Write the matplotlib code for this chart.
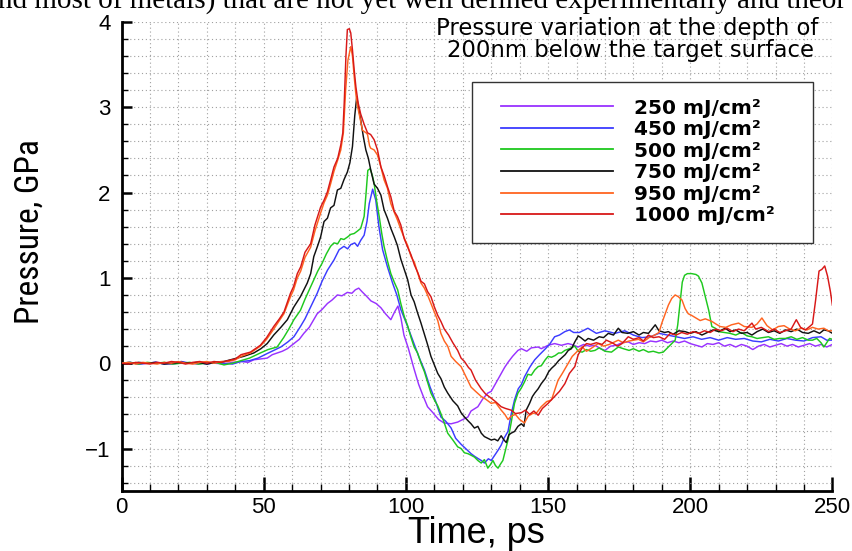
import matplotlib
matplotlib.use('Agg')
import matplotlib.pyplot as plt
from matplotlib import font_manager
from matplotlib.patches import Rectangle
from matplotlib.ticker import MultipleLocator
from matplotlib.font_manager import FontProperties

# ---------------- data (time in ps, pressure in GPa) ----------------
p250 = [(0, 0.0), (3, 0.01), (6, -0.01), (9, 0.0), (12, 0.01), (15, 0.0), (18, -0.01), (21, 0.01),
        (24, 0.0), (27, -0.01), (30, 0.01), (33, 0.0), (36, -0.01), (39, 0.01), (42, 0.02), (44.5, 0.01),
        (46.5, 0.04), (49, 0.05), (51.2, 0.06), (53, 0.10), (54.7, 0.12), (56.5, 0.14), (58.3, 0.17),
        (60.6, 0.23), (62.5, 0.28), (64.1, 0.35), (66, 0.42), (67.6, 0.51), (68.8, 0.58), (70.5, 0.63),
        (72.4, 0.70), (74, 0.74), (75.9, 0.80), (77.5, 0.79), (79.4, 0.83), (81, 0.82), (82.2, 0.86),
        (83.4, 0.88), (84.5, 0.84), (86, 0.79), (87.7, 0.73), (89.5, 0.70), (91.2, 0.65), (92.8, 0.58),
        (94.7, 0.51), (96, 0.60), (97.2, 0.67), (98.3, 0.52), (99.3, 0.33), (100.8, 0.18), (102.8, -0.06),
        (104.5, -0.25), (106, -0.38), (107.6, -0.51), (109.5, -0.58), (111.5, -0.66), (113.4, -0.70),
        (115.9, -0.71), (118.2, -0.69), (120, -0.66), (121.8, -0.63), (122.9, -0.56), (125.3, -0.51),
        (127, -0.42), (128.8, -0.35), (130, -0.33), (131.5, -0.24), (133, -0.15), (134.7, -0.05),
        (135.9, 0.01), (137.5, 0.08), (139.4, 0.15), (140.6, 0.17), (142.5, 0.14), (144.1, 0.18),
        (146.5, 0.19), (147.6, 0.17), (150, 0.21), (152.3, 0.23), (154.7, 0.21), (157, 0.23), (158.2, 0.22),
        (160.6, 0.19), (162.5, 0.22), (164.5, 0.20), (166.5, 0.21), (168.5, 0.17), (170, 0.15), (172, 0.20),
        (174, 0.21), (176, 0.24), (178.2, 0.25), (180, 0.22), (182, 0.24), (184, 0.23), (186, 0.26),
        (188, 0.25), (190, 0.27), (192, 0.24), (194, 0.26), (196, 0.24), (198, 0.26), (200, 0.23),
        (202, 0.21), (204.1, 0.19), (206, 0.23), (208, 0.22), (210, 0.24), (212, 0.20), (214, 0.22),
        (216, 0.19), (218, 0.22), (220, 0.20), (222, 0.16), (224, 0.20), (226, 0.22), (228, 0.19),
        (230, 0.21), (232, 0.23), (234, 0.20), (236, 0.22), (238, 0.19), (240, 0.21), (242, 0.23),
        (244, 0.20), (246, 0.22), (248, 0.19), (250, 0.22)]

p450 = [(0, 0.0), (3, 0.01), (6, -0.01), (9, 0.0), (12, 0.01), (15, -0.01), (18, 0.0), (21, 0.02),
        (24, 0.0), (27, 0.01), (30, -0.01), (33, 0.01), (36, 0.0), (39, -0.01), (42, 0.02), (45, 0.03),
        (48, 0.06), (51, 0.11), (53.5, 0.15), (56, 0.19), (58.5, 0.25), (60.6, 0.31), (62.9, 0.43),
        (64.5, 0.52), (66.5, 0.66), (68.8, 0.82), (70.5, 0.96), (72.4, 1.09), (74.7, 1.21), (76.5, 1.33),
        (78.2, 1.37), (79.5, 1.34), (80.6, 1.39), (82, 1.41), (83, 1.37), (84.1, 1.44), (85.3, 1.50),
        (86.3, 1.66), (87.1, 1.87), (88.3, 2.04), (89.4, 1.91), (90.5, 1.60), (91.8, 1.33), (93.5, 1.13),
        (95.3, 0.94), (96.8, 0.80), (98.2, 0.63), (100.6, 0.43), (102.5, 0.26), (104.5, 0.08),
        (106.5, -0.08), (108.5, -0.28), (110.5, -0.45), (112.3, -0.63), (114, -0.68), (115.9, -0.76),
        (117.5, -0.88), (119.4, -0.95), (121, -1.00), (122.9, -1.06), (124.1, -1.09), (125.5, -1.12),
        (126.5, -1.14), (127.6, -1.17), (129, -1.12), (130, -1.14), (131.2, -1.08), (132.4, -1.02),
        (133.5, -0.96), (134.5, -0.88), (135.9, -0.80), (137, -0.60), (138.2, -0.43), (139.5, -0.30),
        (140.6, -0.25), (141.7, -0.16), (143.5, -0.05), (145.3, 0.04), (147, 0.10), (148.8, 0.16),
        (150.5, 0.22), (152.3, 0.31), (154, 0.33), (155.9, 0.37), (157.5, 0.39), (159, 0.36), (161, 0.36),
        (164, 0.41), (167, 0.35), (170, 0.38), (173.5, 0.35), (177, 0.38), (180, 0.33), (183, 0.30),
        (186, 0.31), (189, 0.35), (192, 0.33), (195, 0.31), (198, 0.29), (201, 0.31), (204, 0.28),
        (207, 0.30), (210, 0.27), (213, 0.30), (216, 0.28), (219, 0.29), (222, 0.26), (225, 0.25),
        (228, 0.28), (231, 0.26), (234, 0.29), (237, 0.27), (240, 0.26), (243, 0.30), (246, 0.31),
        (248, 0.27), (250, 0.27)]

p500 = [(0, 0.0), (3, 0.01), (6, -0.01), (9, 0.01), (12, 0.0), (15, 0.01), (18, -0.01), (21, 0.0),
        (24, 0.01), (27, -0.01), (30, 0.0), (33, 0.01), (36, -0.02), (39, 0.0), (42, 0.03), (45, 0.06),
        (48.8, 0.12), (51.5, 0.16), (54.7, 0.19), (57, 0.30), (58.8, 0.40), (60.6, 0.51), (62.9, 0.62),
        (64.5, 0.75), (66, 0.86), (67.6, 0.98), (69, 1.08), (70.5, 1.17), (72, 1.28), (73.5, 1.37),
        (74.7, 1.41), (76, 1.40), (77.1, 1.46), (78.2, 1.45), (79.5, 1.48), (80.6, 1.51), (81.8, 1.52),
        (83, 1.55), (84.1, 1.58), (85.3, 1.72), (86, 2.00), (86.6, 2.26), (87.4, 2.28), (88.2, 2.20),
        (88.8, 2.11), (89.7, 1.90), (90.6, 1.72), (91.5, 1.52), (92.3, 1.37), (93.5, 1.20), (94.7, 1.05),
        (95.9, 0.95), (97.1, 0.86), (98.2, 0.70), (99.4, 0.55), (100.6, 0.44), (101.8, 0.30),
        (102.9, 0.19), (104.1, 0.12), (105.3, 0.0), (106.5, -0.10), (107.6, -0.22), (108.8, -0.35),
        (110, -0.43), (111.2, -0.50), (112.3, -0.59), (113.5, -0.70), (114.7, -0.82), (116.5, -0.90),
        (118.2, -0.98), (119.4, -1.00), (120.6, -1.05), (121.8, -1.06), (123, -1.08), (124.1, -1.10),
        (125.3, -1.14), (126.5, -1.17), (127.6, -1.13), (128.8, -1.23), (129.7, -1.19), (130.6, -1.14),
        (131.5, -1.20), (132.4, -1.23), (133.3, -1.18), (134.1, -1.14), (135, -1.02), (135.9, -0.90),
        (137, -0.70), (138.2, -0.47), (139.4, -0.35), (140.6, -0.29), (141.7, -0.22), (142.9, -0.13),
        (144.1, -0.14), (145.3, -0.08), (146.5, -0.04), (147.6, -0.03), (149, 0.04), (150, 0.08),
        (151.2, 0.07), (152.5, 0.09), (153.7, 0.12), (154.7, 0.12), (155.9, 0.15), (157.5, 0.17),
        (159.4, 0.20), (160.6, 0.14), (162, 0.13), (163.5, 0.16), (165, 0.14), (166.5, 0.15), (168, 0.18),
        (170, 0.14), (172.3, 0.13), (174.7, 0.19), (176.5, 0.17), (178.5, 0.15), (180, 0.17), (182, 0.14),
        (183.5, 0.16), (185.3, 0.13), (187, 0.14), (189, 0.12), (190.5, 0.13), (192.3, 0.19), (194.7, 0.27),
        (195.6, 0.45), (196.4, 0.70), (197.2, 0.95), (198, 1.03), (199, 1.05), (200.5, 1.05), (202, 1.04),
        (202.9, 1.02), (204.1, 0.94), (205.3, 0.78), (206.5, 0.62), (207.6, 0.43), (208.8, 0.41),
        (210, 0.37), (212, 0.36), (214, 0.35), (216, 0.33), (218, 0.36), (220, 0.32), (221.7, 0.31),
        (223.5, 0.29), (225.5, 0.30), (227.5, 0.31), (229.5, 0.28), (231.5, 0.29), (233.5, 0.29),
        (235.5, 0.31), (237.5, 0.28), (239.5, 0.30), (241.5, 0.27), (243, 0.27), (244.5, 0.29),
        (246, 0.24), (247, 0.19), (248, 0.24), (249, 0.29), (250, 0.28)]

p750 = [(0, 0.0), (3, -0.01), (6, 0.01), (9, 0.0), (12, 0.01), (15, -0.01), (18, 0.0), (21, 0.01),
        (24, 0.0), (27, 0.01), (30, -0.01), (33, 0.01), (36, 0.02), (39.4, 0.05), (42.9, 0.08),
        (46.5, 0.12), (49, 0.17), (51.2, 0.23), (53.5, 0.33), (56, 0.42), (58.3, 0.51), (60.6, 0.66),
        (62.9, 0.78), (65.3, 0.94), (66.5, 1.05), (67.6, 1.25), (69, 1.38), (70, 1.48), (71.2, 1.66),
        (72.4, 1.70), (73.5, 1.82), (74.7, 1.85), (75.9, 2.03), (77.1, 2.05), (78.2, 2.15), (79.4, 2.24),
        (80.3, 2.35), (81.2, 2.54), (82, 2.90), (82.7, 3.12), (83.4, 2.98), (84.1, 2.85), (85, 2.66),
        (85.9, 2.50), (86.8, 2.40), (87.6, 2.27), (88.8, 2.10), (90, 2.05), (91.2, 1.97), (92.3, 1.80),
        (93.5, 1.70), (94.7, 1.58), (95.9, 1.48), (97, 1.38), (98.2, 1.22), (99.4, 1.10), (100.6, 0.98),
        (101.8, 0.80), (102.9, 0.72), (104, 0.60), (105.3, 0.47), (106.5, 0.34), (107.6, 0.22),
        (108.8, 0.08), (110, -0.02), (111.2, -0.12), (112.3, -0.18), (113.5, -0.28), (114.7, -0.35),
        (116.5, -0.44), (118.2, -0.50), (119.4, -0.58), (120.6, -0.63), (122, -0.68), (122.9, -0.71),
        (124.1, -0.76), (125.3, -0.74), (126.5, -0.82), (127.6, -0.86), (128.8, -0.88), (130, -0.90),
        (131.2, -0.89), (132.3, -0.91), (133.5, -0.85), (134.5, -0.90), (135.3, -0.93), (136.2, -0.84),
        (137, -0.82), (138.2, -0.80), (139.4, -0.74), (140.6, -0.71), (141.5, -0.74), (142.3, -0.55),
        (143.5, -0.47), (144.5, -0.39), (145.3, -0.35), (146.5, -0.30), (147.6, -0.24), (149, -0.18),
        (150.2, -0.10), (151.2, -0.06), (152.5, -0.02), (153.7, 0.03), (154.7, 0.06), (156, 0.10),
        (157.1, 0.15), (158.2, 0.17), (159.4, 0.25), (160.6, 0.32), (161.5, 0.30), (163, 0.26),
        (164.1, 0.29), (166, 0.27), (168, 0.31), (169.5, 0.30), (171.2, 0.35), (173, 0.33), (174.7, 0.41),
        (176, 0.36), (178, 0.35), (180, 0.37), (182, 0.33), (183.5, 0.36), (185.3, 0.35), (187.7, 0.45),
        (189, 0.38), (191, 0.36), (192.3, 0.37), (194, 0.34), (196, 0.38), (198.2, 0.37), (200, 0.35),
        (202, 0.37), (204.1, 0.33), (206, 0.36), (208, 0.39), (210, 0.37), (212.3, 0.41), (214, 0.37),
        (216, 0.39), (218, 0.35), (220, 0.36), (221.7, 0.33), (223.5, 0.37), (225.5, 0.40), (227.5, 0.36),
        (229.5, 0.38), (231.5, 0.35), (233.5, 0.39), (235.5, 0.37), (237.5, 0.40), (239.5, 0.36),
        (241.5, 0.35), (243.5, 0.38), (245.5, 0.35), (247, 0.39), (248.5, 0.38), (250, 0.35)]

p950 = [(0, 0.0), (2.5, 0.01), (5, -0.01), (7.5, 0.01), (10, 0.0), (12.5, -0.01), (15, 0.01), (17.5, 0.0),
        (20, 0.02), (22.5, 0.0), (25, -0.01), (27.5, 0.01), (30, 0.02), (32.5, 0.0), (35, 0.02),
        (37.5, 0.02), (40, 0.04), (42, 0.08), (45.3, 0.12), (48.8, 0.20), (51, 0.28), (53.5, 0.40),
        (55.5, 0.50), (57.1, 0.58), (59.4, 0.78), (60.5, 0.86), (61.8, 1.00), (63, 1.08), (64.5, 1.24),
        (66.5, 1.36), (68, 1.55), (70, 1.76), (71.2, 1.88), (72.4, 1.97), (73.5, 2.10), (74.7, 2.25),
        (76, 2.38), (77.1, 2.50), (78, 2.70), (78.8, 3.20), (79.6, 3.55), (80.6, 3.71), (81.2, 3.60),
        (81.8, 3.36), (82.4, 3.15), (83, 3.01), (84, 2.85), (84.7, 2.73), (86, 2.70), (86.5, 2.68),
        (87.2, 2.55), (87.6, 2.52), (88.8, 2.50), (90, 2.44), (91.2, 2.30), (92.3, 2.15), (93.5, 2.05),
        (94.7, 1.87), (96, 1.76), (97, 1.68), (98.2, 1.57), (99.5, 1.46), (100.6, 1.38), (101.8, 1.25),
        (103, 1.18), (104.2, 1.05), (105.3, 0.94), (106.5, 0.88), (107.6, 0.80), (108.8, 0.70),
        (110, 0.60), (111.2, 0.50), (112.3, 0.35), (113.5, 0.26), (114.7, 0.20), (115.9, 0.08),
        (117.5, 0.02), (119.4, -0.04), (121, -0.15), (122.9, -0.28), (124.5, -0.33), (126.5, -0.39),
        (128, -0.42), (130, -0.47), (131.5, -0.46), (133.5, -0.55), (134.8, -0.60), (135.9, -0.66),
        (137, -0.62), (138.5, -0.60), (140, -0.66), (141.7, -0.70), (143, -0.62), (144.5, -0.59),
        (146, -0.58), (147.6, -0.51), (149.5, -0.45), (151.2, -0.43), (152.5, -0.30), (153.5, -0.20),
        (155, -0.12), (157.1, 0.0), (158.5, 0.08), (160.6, 0.15), (162, 0.19), (163.5, 0.14), (165, 0.17),
        (167.6, 0.23), (169.5, 0.20), (171.5, 0.22), (174.7, 0.27), (176.5, 0.24), (178.5, 0.26),
        (181.8, 0.28), (183.5, 0.25), (185.5, 0.30), (187.5, 0.33), (189, 0.36), (190, 0.47), (191.2, 0.58),
        (192.3, 0.68), (193.5, 0.76), (194.7, 0.80), (195.8, 0.78), (197.1, 0.74), (198.2, 0.64),
        (199.3, 0.58), (200.5, 0.56), (202, 0.53), (203.5, 0.50), (205.3, 0.52), (207.6, 0.49),
        (209, 0.46), (210.5, 0.43), (212.5, 0.42), (214.5, 0.45), (217, 0.47), (219, 0.43), (221.7, 0.42),
        (223.5, 0.46), (225.2, 0.53), (227, 0.44), (229, 0.39), (231, 0.43), (233, 0.44), (235, 0.40),
        (237, 0.38), (239, 0.41), (241, 0.39), (243, 0.42), (245, 0.40), (247, 0.41), (248.5, 0.38),
        (250, 0.38)]

p1000 = [(0, 0.0), (2.5, -0.01), (5, 0.01), (7.5, 0.0), (10, -0.01), (12.5, 0.01), (15, 0.0), (17.5, 0.02),
         (20, 0.01), (22.5, -0.01), (25, 0.01), (27.5, 0.02), (30, 0.0), (32.5, 0.02), (35, 0.01),
         (37.5, 0.03), (40, 0.05), (42, 0.10), (45.3, 0.13), (48.8, 0.21), (51, 0.30), (53.5, 0.43),
         (55.5, 0.52), (57.1, 0.60), (59.4, 0.82), (60.5, 0.90), (61.8, 1.05), (63, 1.13), (64.5, 1.30),
         (66.5, 1.40), (68, 1.62), (70, 1.83), (71.2, 1.91), (72.4, 2.01), (73.5, 2.15), (74.7, 2.30),
         (76, 2.40), (77.1, 2.56), (77.8, 2.70), (78.3, 3.05), (78.9, 3.60), (79.4, 3.91), (80.1, 3.92),
         (80.6, 3.87), (81.2, 3.67), (81.8, 3.44), (82.4, 3.24), (83.2, 3.05), (84.1, 2.92), (85.3, 2.80),
         (86.5, 2.70), (87.6, 2.68), (88.8, 2.62), (90, 2.50), (91.2, 2.30), (92.3, 2.20), (93.5, 2.07),
         (94.7, 1.95), (95.9, 1.78), (97, 1.72), (98.2, 1.62), (99.4, 1.46), (100.6, 1.36), (101.8, 1.27),
         (103, 1.15), (104.2, 1.06), (105.3, 0.96), (106.5, 0.93), (107.6, 0.84), (108.8, 0.78),
         (110, 0.66), (111.2, 0.56), (112.3, 0.49), (113.5, 0.40), (115, 0.33), (116.5, 0.24),
         (118.2, 0.15), (119.4, 0.06), (120.6, 0.02), (122, -0.05), (122.9, -0.08), (124.5, -0.20),
         (126.5, -0.30), (128, -0.36), (130, -0.41), (131.5, -0.45), (133.5, -0.51), (135, -0.53),
         (137, -0.55), (138.5, -0.59), (140.6, -0.58), (142, -0.55), (143.5, -0.60), (145, -0.56),
         (146.5, -0.61), (148, -0.53), (150, -0.47), (152.3, -0.39), (154, -0.33), (155.9, -0.24),
         (157.5, -0.12), (159.4, -0.04), (160.6, 0.10), (162, 0.18), (163.5, 0.23), (165, 0.22),
         (167, 0.24), (169, 0.22), (170.5, 0.27), (172.5, 0.24), (174.5, 0.20), (176, 0.23), (178.2, 0.31),
         (180, 0.28), (182, 0.30), (183.5, 0.26), (185.3, 0.33), (187, 0.30), (189, 0.31), (191, 0.28),
         (193, 0.35), (195, 0.33), (197, 0.36), (199, 0.34), (201, 0.37), (203, 0.35), (205, 0.38),
         (207, 0.36), (209, 0.40), (211, 0.38), (213, 0.41), (215, 0.37), (217, 0.40), (219, 0.38),
         (221.7, 0.47), (223, 0.40), (225, 0.42), (227.6, 0.37), (229.5, 0.40), (231.5, 0.36),
         (233.5, 0.38), (235.5, 0.40), (237.3, 0.51), (238.8, 0.42), (240.5, 0.39), (242, 0.43),
         (243, 0.46), (244.1, 0.74), (245.3, 1.08), (246.3, 1.10), (247.3, 1.14), (248.3, 1.02),
         (249.3, 0.84), (250, 0.68)]

series = [p250, p450, p500, p750, p950, p1000]
legend_labels = ['250 mJ/cm²', '450 mJ/cm²', '500 mJ/cm²', '750 mJ/cm²', '950 mJ/cm²', '1000 mJ/cm²']
colors = ['#9932FF', '#3C3CFF', '#1EC81E', '#111111', '#FF6420', '#D81818']

x_ticks = [0, 50, 100, 150, 200, 250]
y_ticks = [-1, 0, 1, 2, 3, 4]

# ---------------- figure ----------------
W, H = 853, 551
fig = plt.figure(figsize=(W / 100, H / 100), dpi=100)
fig.patch.set_facecolor('white')

# pick a condensed sans face for the y-axis title if one is installed
names = {f.name for f in font_manager.fontManager.ttflist}
ylab_fp = None
for n in ['Liberation Sans Narrow', 'Roboto Condensed', 'Open Sans Condensed', 'Noto Sans Condensed',
          'Arial Narrow', 'DejaVu Sans Condensed']:
    if n in names:
        ylab_fp = FontProperties(family=n, size=24)
        break
if ylab_fp is None:
    for f in font_manager.fontManager.ttflist:
        if f.name in ('Noto Sans', 'Open Sans', 'Roboto', 'DejaVu Sans', 'Liberation Sans') \
                and str(f.stretch) in ('condensed', 'extra-condensed', 'semi-condensed', '75', '87.5') \
                and f.weight in (400, 'normal', 'regular') and f.style == 'normal':
            ylab_fp = FontProperties(fname=f.fname, size=24)
            break
if ylab_fp is None:
    ylab_fp = FontProperties(family='Liberation Sans', size=22)

x0, x1 = 121.6, 832.4
y0, y1 = 21.9, 491.2
ax = fig.add_axes([x0 / W, 1 - y1 / H, (x1 - x0) / W, (y1 - y0) / H])

for data, c in zip(series, colors):
    t, p = zip(*data)
    ax.plot(t, p, color=c, lw=1.05, zorder=3)

ax.set_xlim(0, 250)
ax.set_ylim(-1.5, 4)
ax.set_xticks(x_ticks)
ax.set_yticks(y_ticks)
ax.xaxis.set_minor_locator(MultipleLocator(10))
ax.yaxis.set_minor_locator(MultipleLocator(0.2))

ax.set_axisbelow(True)
ax.grid(which='both', color='#a0a0a0', linestyle=(0, (1, 2.5)), linewidth=0.8)

for s in ['top', 'right']:
    ax.spines[s].set_visible(False)
for s in ['left', 'bottom']:
    ax.spines[s].set_linewidth(2.0)

ax.tick_params(axis='x', which='major', direction='in', length=10, width=1.8, labelsize=16, pad=4)
ax.tick_params(axis='x', which='minor', direction='in', length=5, width=1.0)
ax.tick_params(axis='y', which='major', direction='in', length=7, width=1.8, labelsize=16, pad=8)
ax.tick_params(axis='y', which='minor', direction='in', length=4.5, width=1.0)
for lab in ax.get_xticklabels() + ax.get_yticklabels():
    lab.set_family('Liberation Sans')

# axis titles
fig.text(476.5 / W, 1 - 543 / H, 'Time, ps', fontsize=26, family='Liberation Sans',
         ha='center', va='baseline')
ylab = fig.text(30 / W, 1 - 232 / H, 'Pressure, GPa', fontproperties=ylab_fp,
                rotation=90, ha='center', va='center')
renderer = fig.canvas.get_renderer()
ext = ylab.get_window_extent(renderer)
ylab.set_fontsize(ylab_fp.get_size_in_points() * 185.0 / ext.height)

# annotation lines
fig.text(627 / W, 1 - 35 / H, 'Pressure variation at the depth of', fontsize=16.4,
         family='DejaVu Sans', ha='center', va='baseline')
fig.text(631 / W, 1 - 57 / H, '200nm below the target surface', fontsize=16.4,
         family='DejaVu Sans', ha='center', va='baseline')

# cropped line of document text at the very top
fig.text(-0.002, 1 - 9 / H, 'nd most of metals) that are not yet well defined experimentally and theor',
         fontsize=21, family='Liberation Serif', ha='left', va='baseline')

# legend frame + legend
rect = Rectangle((472 / W, 1 - 243 / H), (813 - 472) / W, (243 - 82) / H, transform=fig.transFigure,
                 facecolor='white', edgecolor='#333333', linewidth=1.0, zorder=4)
fig.add_artist(rect)
handles = [plt.Line2D([], [], color=c, lw=1.3) for c in colors]
leg = fig.legend(handles, legend_labels, loc='upper left', bbox_to_anchor=(500.7 / W, 1 - 98.5 / H),
                 bbox_transform=fig.transFigure, frameon=False, borderpad=0, borderaxespad=0,
                 handlelength=5.6, handletextpad=1.0, labelspacing=0.125,
                 prop=FontProperties(family='DejaVu Sans', weight='bold', size=14.5))
leg.set_zorder(6)

fig.savefig('out.png', dpi=100)
